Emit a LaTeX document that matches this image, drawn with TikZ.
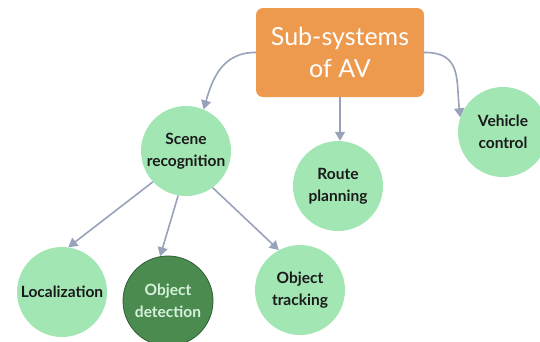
\documentclass[tikz,border=0pt]{standalone}
\usepackage{fontspec}
\setmainfont{Lato}
\usetikzlibrary{arrows.meta}
\definecolor{orangeb}{HTML}{EE9A4E}
\definecolor{lgreen}{HTML}{A2E6B3}
\definecolor{dgreen}{HTML}{4B8B50}
\definecolor{dgreenb}{HTML}{2F5F33}
\definecolor{arrowc}{HTML}{98A2BB}
\definecolor{txtdark}{HTML}{1A1A1A}
\definecolor{txtlight}{HTML}{D6F2DB}
\tikzset{
  x=1pt, y=1pt,
  mainbox/.style={fill=orangeb, rounded corners=7pt, minimum width=168pt, minimum height=89pt,
    text=white, font=\fontsize{25}{32}\selectfont, align=center, inner sep=0pt},
  leaf/.style={circle, fill=lgreen, minimum size=90pt, inner sep=0pt, text=txtdark,
    font=\bfseries\fontsize{15.5}{22}\selectfont, align=center},
  darkleaf/.style={leaf, fill=dgreen, draw=dgreenb, line width=0.8pt, text=txtlight},
  conn/.style={draw=arrowc, line width=1.6pt, -{Triangle[length=9pt,width=10pt]}}
}
\begin{document}
\begin{tikzpicture}
\useasboundingbox (0,0) rectangle (540,-341);
\node[mainbox] (av) at (340,-52.5) {Sub-systems\\of AV};
\node[leaf] (scene) at (186,-151) {Scene\\recognition};
\node[leaf] (route) at (338,-186) {Route\\planning};
\node[leaf] (vehicle) at (503,-132) {Vehicle\\control};
\node[leaf] (loc) at (62,-292) {Localization};
\node[darkleaf] (det) at (168,-301) {Object\\detection};
\node[leaf] (track) at (300,-290) {Object\\tracking};
\path[conn] (av.west) .. controls (222,-52) and (212,-80) .. (scene.67);
\path[conn] (av.south) -- (av.south |- route.north);
\path[conn] (av.east) .. controls (462,-52) and (456,-80) .. (vehicle.161);
\path[conn] (scene.223) -- (loc.82);
\path[conn] (scene.260) -- (det.100);
\path[conn] (scene.306) -- (track.118);
\end{tikzpicture}
\end{document}
